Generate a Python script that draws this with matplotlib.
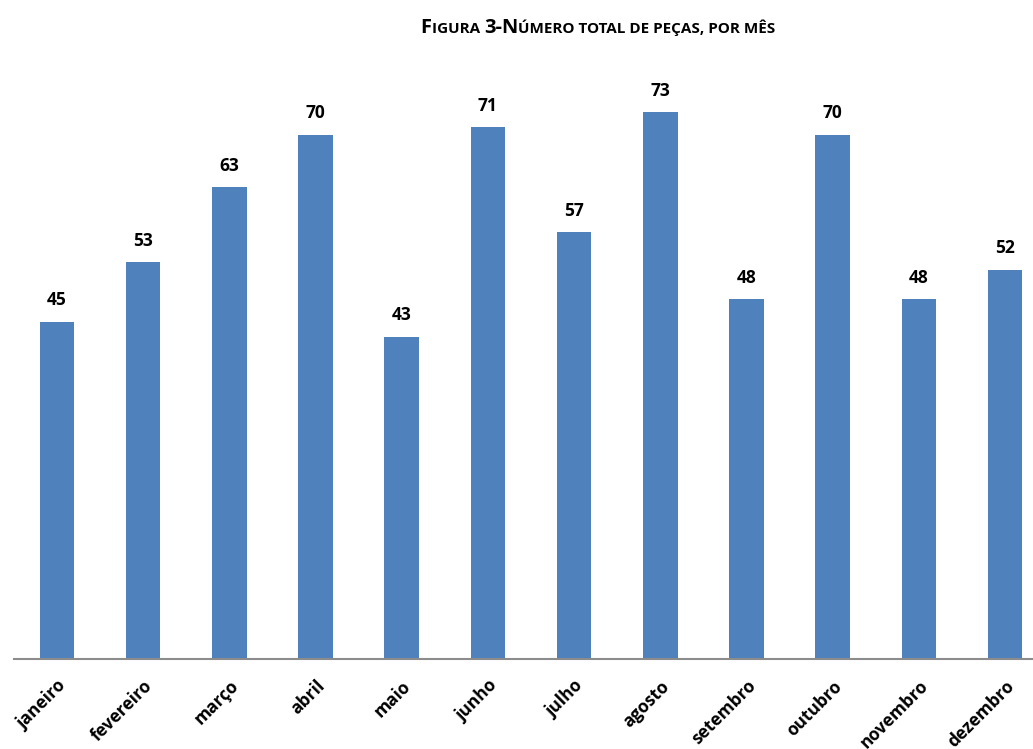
import matplotlib

matplotlib.use("Agg")
import matplotlib.pyplot as plt  # noqa: E402

months = ["janeiro", "fevereiro", "março", "abril", "maio", "junho",
          "julho", "agosto", "setembro", "outubro", "novembro", "dezembro"]
pieces = [45, 53, 63, 70, 43, 71, 57, 73, 48, 70, 48, 52]

# title written as small caps: (text, big?)
title_parts = [("F", True), ("IGURA ", False), ("3-N", True),
               ("ÚMERO TOTAL DE PEÇAS, POR MÊS", False)]

plt.rcParams["font.family"] = ["Open Sans", "DejaVu Sans"]

W, H = 1033, 749
fig = plt.figure(figsize=(W / 100, H / 100), dpi=100)
left, right, bottom = 13.9, 1048.1, 659
ax = fig.add_axes([left / W, (H - bottom) / H, (right - left) / W, 599.2 / H])

x = range(len(months))
ax.bar(x, pieces, width=0.4, color="#4F81BD")
ax.set_xlim(-0.5, len(months) - 0.5)
ax.set_ylim(0, 80)
for i, v in enumerate(pieces):
    ax.annotate(str(v), (i, v), xytext=(0, 9), textcoords="offset points",
                ha="center", va="bottom", fontsize=12.5, fontweight="bold")

for s in ["top", "right", "left"]:
    ax.spines[s].set_visible(False)
ax.spines["bottom"].set_color("#8C8C8C")
ax.spines["bottom"].set_linewidth(1.5)
ax.set_yticks([])
ax.set_xticks(list(x))
ax.set_xticklabels(months, rotation=45, ha="right", va="top",
                   rotation_mode="anchor", fontsize=12.5, fontweight="bold")
ax.tick_params(axis="x", length=0, pad=13)

# small caps title, centred at x=598 px
texts = []
for t, big in title_parts:
    texts.append(fig.text(0, 0, t, fontsize=14.5 if big else 11,
                          fontweight="bold", va="baseline", ha="left"))
fig.canvas.draw()
r = fig.canvas.get_renderer()
widths = [tx.get_window_extent(r).width for tx in texts]
xpos = 598 - sum(widths) / 2
for tx, w in zip(texts, widths):
    tx.set_position((xpos / W, (H - 33) / H))
    xpos += w

fig.savefig("out.png", dpi=100)
